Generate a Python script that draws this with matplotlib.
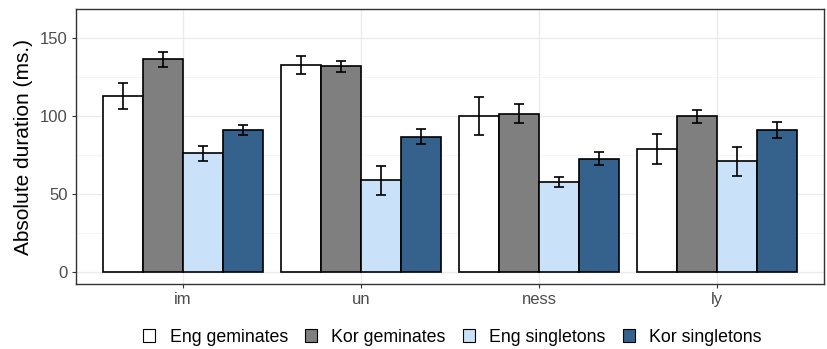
import matplotlib
matplotlib.use("Agg")
import matplotlib.pyplot as plt
import numpy as np
from matplotlib.patches import Patch

plt.rcParams['font.family'] = ['Liberation Sans', 'DejaVu Sans']

categories = ["im", "un", "ness", "ly"]
series = ["Eng geminates", "Kor geminates", "Eng singletons", "Kor singletons"]
eng_gem = [112.8, 132.7, 100.0, 78.8]
kor_gem = [136.3, 131.8, 101.5, 99.8]
eng_sing = [76.1, 58.8, 57.9, 71.0]
kor_sing = [91.0, 86.8, 72.6, 91.0]
eng_gem_err = [8.3, 5.8, 11.9, 9.7]
kor_gem_err = [4.9, 3.4, 6.2, 4.1]
eng_sing_err = [4.7, 9.3, 3.2, 9.2]
kor_sing_err = [3.4, 4.9, 4.3, 5.2]
yticks = [0, 50, 100, 150]

values = [eng_gem, kor_gem, eng_sing, kor_sing]
errors = [eng_gem_err, kor_gem_err, eng_sing_err, kor_sing_err]
colors = ["#FFFFFF", "#7F7F7F", "#C9E1F9", "#35628C"]

fig = plt.figure(figsize=(8.27, 3.49), dpi=100)
ax = fig.add_axes([0.0919, 0.1862, 0.9045, 0.788])

x = np.arange(1, len(categories) + 1)
w = 0.225
for i, (vals, errs, c) in enumerate(zip(values, errors, colors)):
    pos = x + (i - 1.5) * w
    ax.bar(pos, vals, width=w, color=c, edgecolor="black", linewidth=1.2, zorder=3)
    ax.errorbar(pos, vals, yerr=errs, fmt="none", ecolor="black", elinewidth=1.2,
                capsize=3.5, capthick=1.2, zorder=4)

ax.set_xlim(0.4, 4.6)
ax.set_ylim(-7.7, 168.6)
ax.set_xticks(x)
ax.set_xticklabels(categories)
ax.set_yticks(yticks)
ax.set_yticks([25, 75, 125], minor=True)
ax.grid(which="major", color="#EBEBEB", linewidth=1.0, zorder=0)
ax.grid(which="minor", axis="y", color="#F4F4F4", linewidth=0.6, zorder=0)
ax.tick_params(which="minor", length=0)
ax.tick_params(which="major", length=3, color="#333333", labelcolor="#4D4D4D",
               labelsize=12, width=0.8, pad=3)
for s in ax.spines.values():
    s.set_color("#333333")
    s.set_linewidth(1.0)
ax.set_ylabel("Absolute duration (ms.)", fontsize=15, color="black", labelpad=5)

handles = [Patch(facecolor=c, edgecolor="black", linewidth=0.8) for c in colors]
fig.legend(handles, series, loc="center", bbox_to_anchor=(0.547, 0.034), ncol=4,
           frameon=False, fontsize=12.8, handlelength=0.7, handleheight=0.7,
           handletextpad=0.8, columnspacing=0.95, borderpad=0)

fig.savefig("out.png", dpi=100)
